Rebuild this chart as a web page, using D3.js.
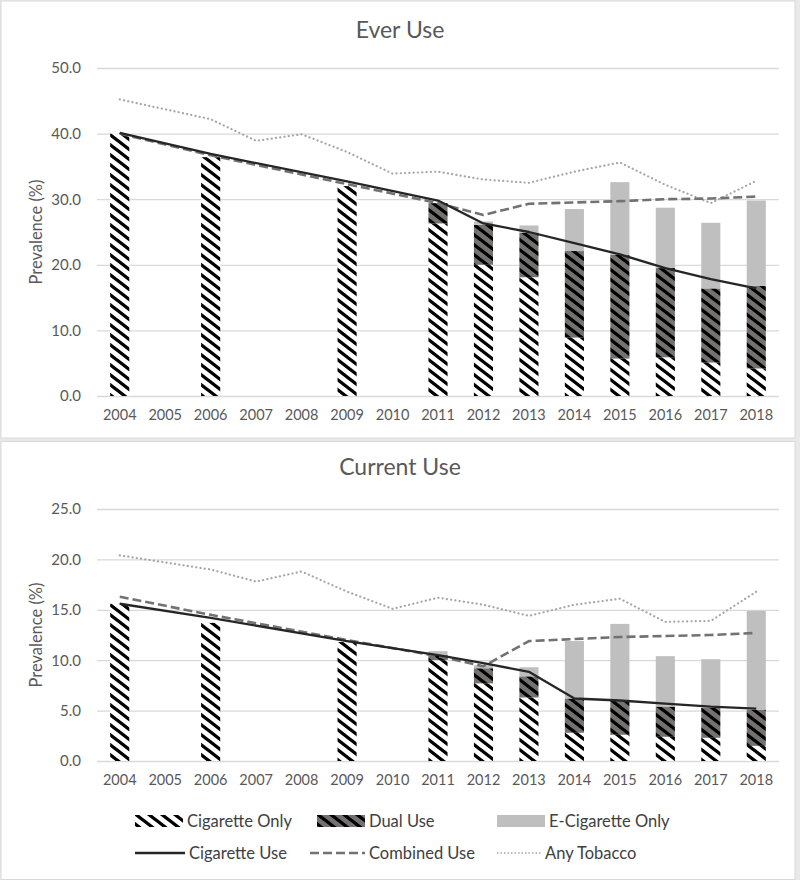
<!DOCTYPE html>
<html>
<head>
<meta charset="utf-8">
<script src="https://cdn.jsdelivr.net/npm/d3@7/dist/d3.min.js"></script>
<style>
  html, body { margin: 0; padding: 0; background: #ffffff; }
  svg { display: block; font-family: Lato, "Open Sans", sans-serif; }
</style>
</head>
<body>
<svg id="chart" width="800" height="880"></svg>
<script>
// ---------- DATA ----------
const years = ["2004","2005","2006","2007","2008","2009","2010","2011","2012","2013","2014","2015","2016","2017","2018"];

// Ever Use (%)
const everCigOnly  = [40.0, null, 36.4, null, null, 32.0, null, 26.3, 20.0, 18.1, 8.9, 5.7, 5.9, 5.1, 4.2];
const everDual     = [0, null, 0, null, null, 0, null, 3.1, 6.1, 6.8, 13.2, 15.8, 13.6, 11.3, 12.6];
const everEcig     = [0, null, 0, null, null, 0, null, 0, 0.5, 1.1, 6.4, 11.1, 9.2, 10.0, 13.0];
const everCigUse   = [40.1, null, 36.9, null, null, 32.7, null, 29.8, 26.3, 25.0, 23.3, 21.6, 19.5, 17.8, 16.4];
const everCombined = [40.0, null, 36.7, null, null, 32.3, null, 29.4, 27.6, 29.3, 29.5, 29.7, 30.0, 30.1, 30.4];
const everAny      = [45.2, 43.7, 42.2, 38.9, 39.9, 37.2, 33.9, 34.2, 33.0, 32.5, 34.2, 35.6, 32.2, 29.4, 32.8];
const everTicks    = [0, 10, 20, 30, 40, 50];

// Current Use (%)
const curCigOnly  = [15.6, null, 13.7, null, null, 11.8, null, 10.0, 7.7, 6.3, 2.8, 2.6, 2.4, 2.3, 1.5];
const curDual     = [0, null, 0, null, null, 0, null, 0.5, 1.5, 2.1, 3.4, 3.4, 3.0, 3.0, 3.6];
const curEcig     = [0, null, 0, null, null, 0, null, 0.4, 0.3, 0.9, 5.7, 7.6, 5.0, 4.8, 9.8];
const curCigUse   = [15.6, null, 14.2, null, null, 11.9, null, 10.5, 9.7, 8.85, 6.2, 6.0, 5.7, 5.4, 5.2];
const curCombined = [16.3, null, 14.5, null, null, 12.0, null, 10.4, 9.4, 11.9, 12.1, 12.3, 12.4, 12.5, 12.7];
const curAny      = [20.4, 19.7, 19.0, 17.8, 18.8, 16.8, 15.1, 16.2, 15.5, 14.4, 15.5, 16.1, 13.8, 13.9, 16.8];
const curTicks    = [0, 5, 10, 15, 20, 25];

const barKeys = ["Cigarette Only", "Dual Use", "E-Cigarette Only"];
const lineKeys = ["Cigarette Use", "Combined Use", "Any Tobacco"];

// ---------- DRAW ----------
const svg = d3.select("#chart");
const textCol = "#595959";
const gridCol = "#d9d9d9";

// patterns
const defs = svg.append("defs");
function hatch(id, bg) {
  const p = defs.append("pattern").attr("id", id)
    .attr("patternUnits", "userSpaceOnUse")
    .attr("width", 13).attr("height", 10);
  p.append("rect").attr("width", 13).attr("height", 10).attr("fill", bg);
  p.append("path")
    .attr("d", "M-13,-10L26,20M-13,0L26,30M-13,-20L26,10")
    .attr("stroke", "#000").attr("stroke-width", 3.3);
}
hatch("hatchWhite", "#ffffff");
hatch("hatchGray", "#767171");

const fills = { "Cigarette Only": "url(#hatchWhite)", "Dual Use": "url(#hatchGray)", "E-Cigarette Only": "#bfbfbf" };

// panel frames
svg.append("rect").attr("x", 0).attr("y", 0).attr("width", 800).attr("height", 880).attr("fill", "#e9e9e9");
svg.append("rect").attr("x", 1).attr("y", 1).attr("width", 794).attr("height", 437).attr("fill", "#fff").attr("stroke", "#d9d9d9");
svg.append("rect").attr("x", 1).attr("y", 441.5).attr("width", 794).attr("height", 438).attr("fill", "#fff").attr("stroke", "#d9d9d9");

const x = d3.scaleBand().domain(years).range([97, 779]).paddingInner(0.58).paddingOuter(0.29);

function panel(opts) {
  const g = svg.append("g");
  const y = d3.scaleLinear().domain([0, opts.max]).range([opts.bottom, opts.top]);

  // title
  g.append("text").attr("x", 400).attr("y", opts.titleY).attr("text-anchor", "middle")
    .attr("font-size", 23).attr("fill", textCol).text(opts.title);

  // gridlines + y labels
  const yAxis = d3.axisLeft(y).tickValues(opts.ticks).tickFormat(d3.format(".1f")).tickSize(-(779 - 97)).tickPadding(16);
  const ya = g.append("g").attr("transform", "translate(97,0)").call(yAxis);
  ya.select(".domain").remove();
  ya.selectAll(".tick line").attr("stroke", gridCol).attr("stroke-width", 1.3);
  ya.selectAll(".tick text").attr("fill", textCol).attr("font-size", 15).attr("font-family", "Lato, sans-serif");

  // y axis title
  g.append("text").attr("transform", `translate(42,${(opts.top + opts.bottom) / 2}) rotate(-90)`)
    .attr("text-anchor", "middle").attr("font-size", 16.5).attr("fill", textCol).text("Prevalence (%)");

  // x axis labels
  const xAxis = d3.axisBottom(x).tickSize(0).tickPadding(14);
  const xa = g.append("g").attr("transform", `translate(0,${opts.bottom})`).call(xAxis);
  xa.select(".domain").remove();
  xa.selectAll(".tick text").attr("fill", textCol).attr("font-size", 14.5).attr("font-family", "Lato, sans-serif");

  // stacked bars
  const rows = years.map((yr, i) => ({
    year: yr,
    "Cigarette Only": opts.cigOnly[i],
    "Dual Use": opts.dual[i],
    "E-Cigarette Only": opts.ecig[i]
  })).filter(r => r["Cigarette Only"] !== null);
  const stack = d3.stack().keys(barKeys)(rows);
  stack.forEach(layer => {
    g.append("g").selectAll("rect").data(layer).join("rect")
      .attr("x", d => x(d.data.year))
      .attr("width", x.bandwidth())
      .attr("y", d => y(d[1]))
      .attr("height", d => Math.max(0, y(d[0]) - y(d[1])))
      .attr("fill", fills[layer.key]);
  });

  // lines
  const cx = yr => x(yr) + x.bandwidth() / 2;
  function drawLine(vals, style) {
    const pts = years.map((yr, i) => ({ yr, v: vals[i] })).filter(p => p.v !== null);
    const line = d3.line().x(p => cx(p.yr)).y(p => y(p.v));
    g.append("path").datum(pts).attr("d", line).attr("fill", "none")
      .attr("stroke", style.color).attr("stroke-width", style.width)
      .attr("stroke-dasharray", style.dash || null)
      .attr("stroke-linecap", style.cap || "butt")
      .attr("stroke-linejoin", "round");
  }
  drawLine(opts.any, { color: "#a6a6a6", width: 2.2, dash: "0.1,4.2", cap: "round" });
  drawLine(opts.combined, { color: "#767171", width: 2.6, dash: "9,4" });
  drawLine(opts.cigUse, { color: "#262626", width: 2.3 });
}

panel({ title: "Ever Use", titleY: 38, top: 68, bottom: 396, max: 50, ticks: everTicks,
  cigOnly: everCigOnly, dual: everDual, ecig: everEcig, cigUse: everCigUse, combined: everCombined, any: everAny });
panel({ title: "Current Use", titleY: 475, top: 509, bottom: 761, max: 25, ticks: curTicks,
  cigOnly: curCigOnly, dual: curDual, ecig: curEcig, cigUse: curCigUse, combined: curCombined, any: curAny });

// ---------- LEGEND ----------
const legend = svg.append("g").attr("font-size", 16.5).attr("fill", "#404040");
const legendItems = [
  { key: barKeys[0], type: "bar", x: 135, y: 821 },
  { key: barKeys[1], type: "bar", x: 317, y: 821 },
  { key: barKeys[2], type: "bar", x: 497, y: 821 },
  { key: lineKeys[0], type: "line", x: 135, y: 853, color: "#262626", width: 2.3 },
  { key: lineKeys[1], type: "line", x: 310, y: 853, color: "#767171", width: 2.6, dash: "9,4" },
  { key: lineKeys[2], type: "line", x: 497, y: 853, color: "#a6a6a6", width: 1.5, dash: "1.5,2" }
];
legendItems.forEach(it => {
  const textX = it.type === "bar" ? it.x + 52 : (it.x === 135 ? 189 : it.x === 310 ? 369 : 545);
  if (it.type === "bar") {
    legend.append("rect").attr("x", it.x).attr("y", it.y - 6).attr("width", textX - it.x - 4).attr("height", 12)
      .attr("fill", fills[it.key]);
  } else {
    legend.append("line").attr("x1", it.x).attr("x2", textX - 4).attr("y1", it.y).attr("y2", it.y)
      .attr("stroke", it.color).attr("stroke-width", it.width).attr("stroke-dasharray", it.dash || null);
  }
  legend.append("text").attr("x", textX).attr("y", it.y).attr("dy", "0.35em")
    .attr("fill", "#404040").text(it.key);
});
</script>
</body>
</html>
